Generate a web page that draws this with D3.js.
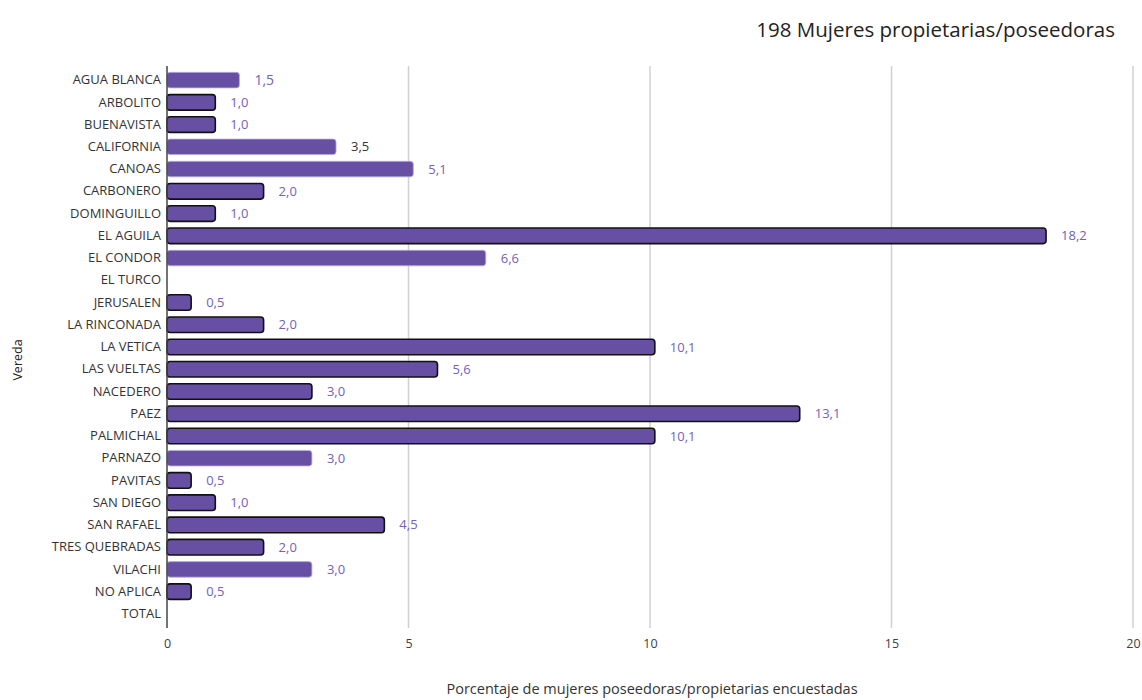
<!DOCTYPE html>
<html>
<head>
<meta charset="utf-8">
<script src="https://cdn.jsdelivr.net/npm/d3@7"></script>
<style>
  html, body { margin: 0; padding: 0; background: #fff; }
  svg { display: block; }
  text { font-family: "Open Sans", "Noto Sans", sans-serif; }
</style>
</head>
<body>
<svg id="chart" width="1142" height="700"></svg>
<script>
const categories = ["AGUA BLANCA","ARBOLITO","BUENAVISTA","CALIFORNIA","CANOAS","CARBONERO","DOMINGUILLO","EL AGUILA","EL CONDOR","EL TURCO","JERUSALEN","LA RINCONADA","LA VETICA","LAS VUELTAS","NACEDERO","PAEZ","PALMICHAL","PARNAZO","PAVITAS","SAN DIEGO","SAN RAFAEL","TRES QUEBRADAS","VILACHI","NO APLICA","TOTAL"];
const values = [1.5,1.0,1.0,3.5,5.1,2.0,1.0,18.2,6.6,null,0.5,2.0,10.1,5.6,3.0,13.1,10.1,3.0,0.5,1.0,4.5,2.0,3.0,0.5,null];
const outlined = [false,true,true,false,false,true,true,true,false,false,true,true,true,true,true,true,true,false,true,true,true,true,false,true,false];
const xTicks = [0,5,10,15,20];
const title = "198 Mujeres propietarias/poseedoras";
const xTitle = "Porcentaje de mujeres poseedoras/propietarias encuestadas";
const yTitle = "Vereda";

const data = categories.map((c,i)=>({cat:c, v:values[i], out:outlined[i]}));

const svg = d3.select("#chart");
const mLeft = 167, mRight = 1133, mTop = 66, mBottom = 628;

const x = d3.scaleLinear().domain([0,20]).range([mLeft,mRight]);
const y = d3.scaleBand().domain(categories).range([mTop+3, mBottom-3]).paddingInner(0.3).paddingOuter(0.15);

// gridlines
svg.append("g").selectAll("line").data(xTicks.filter(t=>t>0)).join("line")
  .attr("x1",d=>x(d)).attr("x2",d=>x(d)).attr("y1",mTop).attr("y2",mBottom)
  .attr("stroke","#d0d0d0").attr("stroke-width",1.5);

// x tick labels
const xAxis = d3.axisBottom(x).tickValues(xTicks).tickSize(0).tickPadding(0).tickFormat(d3.format("d"));
const gx = svg.append("g").attr("transform",`translate(0,${mBottom+11})`).call(xAxis);
gx.select(".domain").remove();
gx.selectAll("text").attr("font-size",12.5).attr("fill","#404040").attr("font-family","Open Sans, sans-serif");

// bars
const barColor = "#6750a4";
svg.append("g").selectAll("rect").data(data.filter(d=>d.v!=null)).join("rect")
  .attr("x",x(0)).attr("y",d=>y(d.cat))
  .attr("width",d=>x(d.v)-x(0)).attr("height",y.bandwidth())
  .attr("rx",3).attr("ry",3)
  .attr("fill",barColor)
  .attr("stroke",d=>d.out?"#111":"#b9aee0")
  .attr("stroke-width",d=>d.out?1.6:0.8);

// y axis
const yAxis = d3.axisLeft(y).tickSize(0).tickPadding(6);
const gy = svg.append("g").attr("transform",`translate(${mLeft},0)`).call(yAxis);
gy.select(".domain").remove();
gy.selectAll("text").attr("font-size",13).attr("fill","#333").attr("font-family","Open Sans, sans-serif");
svg.append("line").attr("x1",mLeft).attr("x2",mLeft).attr("y1",mTop).attr("y2",mBottom)
  .attr("stroke","#444").attr("stroke-width",1.5);

// value labels
const fmt = v => d3.format(".1f")(v).replace(".",",");
svg.append("g").selectAll("text").data(data.filter(d=>d.v!=null)).join("text")
  .attr("x",d=>x(d.v)+15).attr("y",d=>y(d.cat)+y.bandwidth()/2)
  .attr("dy","0.35em")
  .attr("font-size",d=>d.cat==="AGUA BLANCA"?14:13)
  .attr("fill",d=>d.cat==="CALIFORNIA"?"#333":"#7461b8")
  .text(d=>fmt(d.v));

// titles
svg.append("text").attr("x",1115).attr("y",37).attr("text-anchor","end")
  .attr("font-size",20.5).attr("fill","#222").text(title);
svg.append("text").attr("x",652).attr("y",694).attr("text-anchor","middle")
  .attr("font-size",14.5).attr("fill","#333").text(xTitle);
svg.append("text").attr("transform","translate(22,360) rotate(-90)").attr("text-anchor","middle")
  .attr("font-size",12.5).attr("fill","#222").attr("font-family","Liberation Sans, Arial, sans-serif").text(yTitle);
</script>
</body>
</html>
